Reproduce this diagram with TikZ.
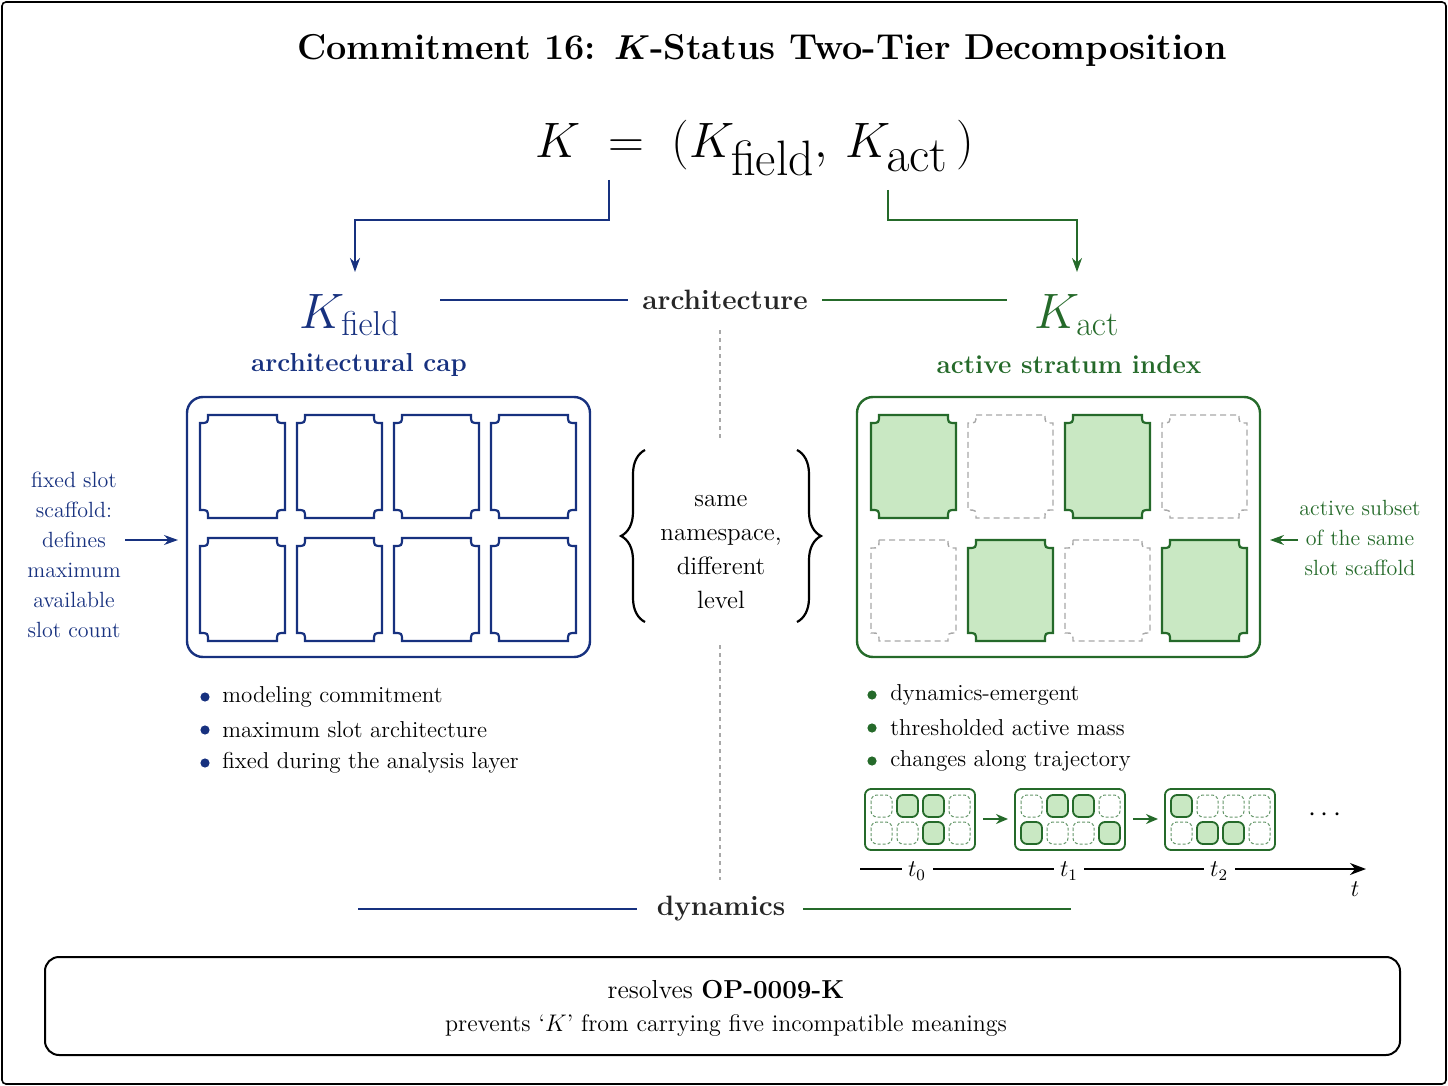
\documentclass[tikz,border=0pt]{standalone}
\usetikzlibrary{arrows.meta,decorations.pathreplacing}
\definecolor{kb}{HTML}{17317F}
\definecolor{kg}{HTML}{256A2A}
\definecolor{kfill}{HTML}{C9E8C3}
\definecolor{kgray}{HTML}{A8A8A8}
\newcommand\cslot[5]{% x1 y1 x2 y2 style
  \draw[#5] ({#1+8},#2) -- ({#3-8},#2) .. controls ({#3-8},{#2+8}) .. (#3,{#2+8}) -- (#3,{#4-8}) .. controls ({#3-8},{#4-8}) .. ({#3-8},#4) -- ({#1+8},#4) .. controls ({#1+8},{#4-8}) .. (#1,{#4-8}) -- (#1,{#2+8}) .. controls ({#1+8},{#2+8}) .. cycle;}
\begin{document}
\begin{tikzpicture}[x=0.5pt,y=-0.5pt,
  every node/.style={inner sep=0pt},
  bslot/.style={draw=kb,line width=1.1pt},
  gslot/.style={draw=kg,line width=1.1pt,fill=kfill},
  eslot/.style={draw=kgray,line width=0.7pt,dash pattern=on 3pt off 2pt},
  mfill/.style={draw=kg,line width=0.9pt,fill=kfill,rounded corners=3pt},
  mempty/.style={draw=kg!70,line width=0.5pt,dash pattern=on 1.5pt off 1pt,rounded corners=3pt},
  blu/.style={kb,line width=1pt},
  grn/.style={kg,line width=1pt},
  arr/.style={-{Stealth[length=7pt,width=5pt]}},
  btext/.style={font=\fontsize{11.5}{14.5}\selectfont,align=left,anchor=west}]
\useasboundingbox (0,0) rectangle (1448,1086);
\draw[line width=0.8pt,rounded corners=2pt] (2,2) rectangle (1446,1084);
\node[font=\fontsize{18}{22}\selectfont\bfseries\boldmath] (title) at (762,50) {Commitment 16: $K$-Status Two-Tier Decomposition};
\node[font=\fontsize{43}{45}\selectfont] (eq) at (755,148) {$K \;=\; (K_{\mathrm{field}},\,K_{\mathrm{act}}\,)$};
\coordinate (bs) at (609,180); \coordinate (gs) at (888,190);
\node[kb,font=\fontsize{24}{26}\selectfont] (kf) at (350,315) {$K_{\mathrm{field}}$};
\node[kg,font=\fontsize{24}{26}\selectfont] (ka) at (1077,315) {$K_{\mathrm{act}}$};
\draw[blu,arr] (bs) -- (609,220) -- (355,220) -- (355,272);
\draw[grn,arr] (gs) -- (888,220) -- (1077,220) -- (1077,272);
\node[kb,font=\fontsize{13}{15}\selectfont\bfseries] (kfl) at (359,365) {architectural cap};
\node[kg,font=\fontsize{13}{15}\selectfont\bfseries] (kal) at (1069,365) {active stratum index};
\node[text=black!85,font=\fontsize{14}{16}\selectfont\bfseries] (arch) at (725,300) {architecture};
\draw[blu] (440,300) -- (628,300);
\draw[grn] (822,300) -- (1007,300);
\draw[kgray,line width=0.6pt,dash pattern=on 2pt off 2pt] (720,330) -- (720,440) (720,645) -- (720,880);
% boxes
\draw[kb,line width=1.2pt,rounded corners=8pt] (187,397) rectangle (590,657);
\draw[kg,line width=1.2pt,rounded corners=8pt] (857,397) rectangle (1260,657);
\foreach \x in {200,297,394,491}{
  \cslot{\x}{415}{\x+85}{518}{bslot}
  \cslot{\x}{538}{\x+85}{641}{bslot}}
\cslot{871}{415}{956}{518}{gslot}
\cslot{968}{415}{1053}{518}{eslot}
\cslot{1065}{415}{1150}{518}{gslot}
\cslot{1162}{415}{1247}{518}{eslot}
\cslot{871}{540}{956}{641}{eslot}
\cslot{968}{540}{1053}{641}{gslot}
\cslot{1065}{540}{1150}{641}{eslot}
\cslot{1162}{540}{1247}{641}{gslot}
% braces
\draw[line width=1.1pt,decorate,decoration={brace,amplitude=12pt}] (645,622) -- (645,450);
\draw[line width=1.1pt,decorate,decoration={brace,amplitude=12pt}] (797,450) -- (797,622);
\node[align=center,font=\fontsize{12.5}{17}\selectfont] (mid) at (721,552) {same\\namespace,\\different\\level};
% side texts
\node[kb,align=center,font=\fontsize{11}{15}\selectfont] (lt) at (74,555) {fixed slot\\scaffold:\\defines\\maximum\\available\\slot count};
\coordinate (la) at (178,540);
\draw[blu,arr,line width=0.8pt] (125,540) -- (la);
\node[kg,align=center,font=\fontsize{11}{15}\selectfont] (rt) at (1360,538) {active subset\\of the same\\slot scaffold};
\coordinate (ra) at (1270,540);
\draw[grn,arr,line width=0.8pt] (1298,540) -- (ra);
% bullets
\foreach \y/\t in {697/modeling commitment,730/maximum slot architecture,763/fixed during the analysis layer}{
  \fill[kb] (205,\y) circle (2.3pt);
  \node[btext] at (222,\y) {\t};}
\foreach \y/\t in {695/dynamics-emergent,728/thresholded active mass,761/changes along trajectory}{
  \fill[kg] (872,\y) circle (2.3pt);
  \node[btext] at (890,\y) {\t};}
% mini grids
\foreach \bx/\pa/\pb in {865/{0,1,1,0}/{0,0,1,0},1015/{0,1,1,0}/{1,0,0,1},1165/{1,0,0,0}/{0,1,1,0}}{
  \draw[kg,line width=0.9pt,rounded corners=3pt] (\bx,789) rectangle ({\bx+110},850);
  \foreach \v [count=\j] in \pa {
    \pgfmathsetmacro\sx{\bx+6+(\j-1)*26}
    \ifnum\v=1 \draw[mfill] (\sx,795) rectangle ({\sx+21},817); \else \draw[mempty] (\sx,795) rectangle ({\sx+21},817); \fi}
  \foreach \v [count=\j] in \pb {
    \pgfmathsetmacro\sx{\bx+6+(\j-1)*26}
    \ifnum\v=1 \draw[mfill] (\sx,822) rectangle ({\sx+21},844); \else \draw[mempty] (\sx,822) rectangle ({\sx+21},844); \fi}
}
\draw[kg,line width=1pt,-{Stealth[length=6pt,width=5pt]}] (983,819) -- (1008,819);
\draw[kg,line width=1pt,-{Stealth[length=6pt,width=5pt]}] (1133,819) -- (1158,819);
\node[font=\fontsize{14}{14}\selectfont] (dots) at (1325,815) {$\cdots$};
% timeline
\node[font=\fontsize{12}{14}\selectfont] (t0) at (917,871) {$t_0$};
\node[font=\fontsize{12}{14}\selectfont] (t1) at (1069,871) {$t_1$};
\node[font=\fontsize{12}{14}\selectfont] (t2) at (1219,871) {$t_2$};
\node[font=\fontsize{12}{14}\selectfont] (tt) at (1355,889) {$t$};
\coordinate (tstart) at (860,869); \coordinate (tend) at (1366,869);
\draw[line width=0.8pt] (tstart) -- (902,869) (933,869) -- (1054,869) (1084,869) -- (1204,869);
\draw[line width=0.8pt,-{Stealth[length=8pt,width=6pt]}] (1235,869) -- (tend);
% dynamics
\node[text=black!85,font=\fontsize{14}{16}\selectfont\bfseries] (dyn) at (721,909) {dynamics};
\draw[blu] (358,909) -- (637,909);
\draw[grn] (803,909) -- (1071,909);
% bottom box
\draw[line width=1pt,rounded corners=7pt] (45,957) rectangle (1400,1055);
\node[font=\fontsize{13}{15}\selectfont] (b1) at (726,990) {resolves \textbf{OP-0009-K}};
\node[font=\fontsize{12}{14}\selectfont] (b2) at (726,1026) {prevents `$K$' from carrying five incompatible meanings};
\end{tikzpicture}
\end{document}
